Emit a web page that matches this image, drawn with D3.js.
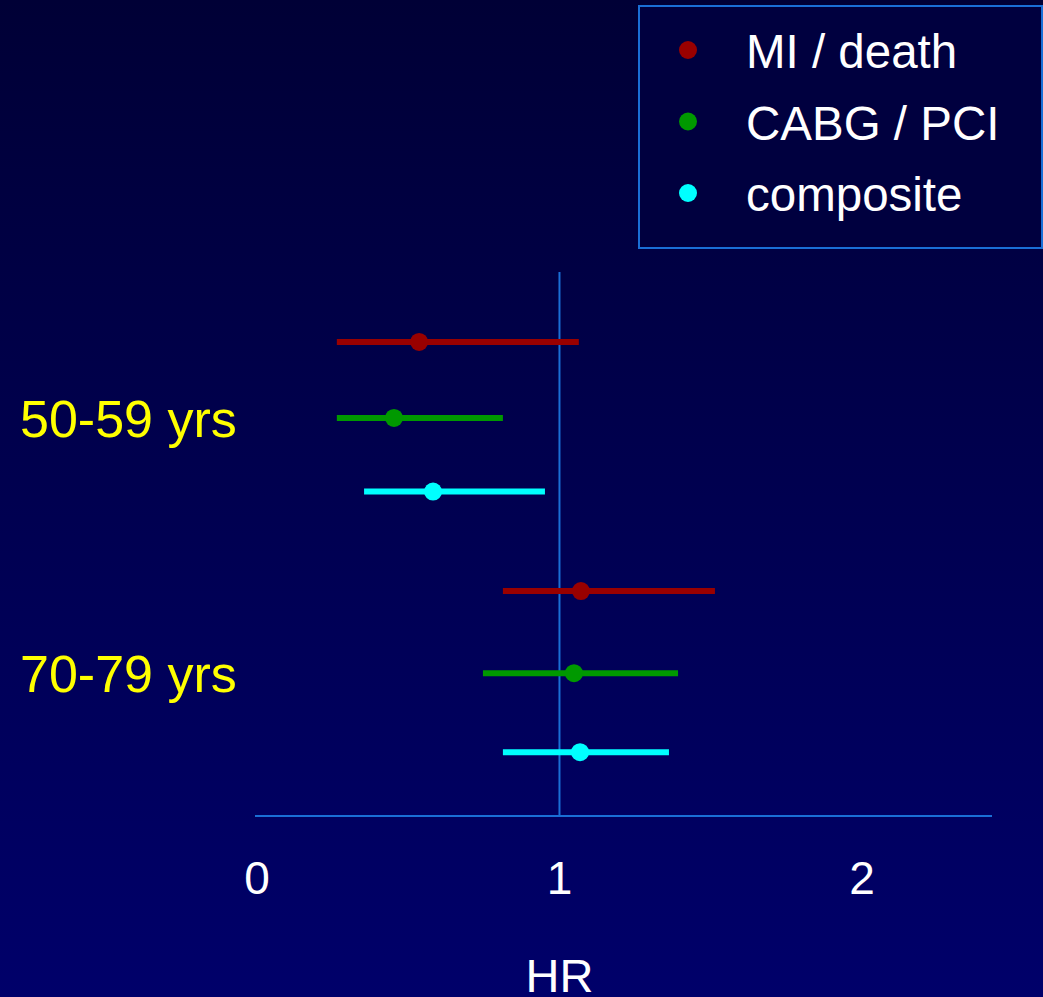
<!DOCTYPE html>
<html>
<head>
<meta charset="utf-8">
<script src="https://cdn.jsdelivr.net/npm/d3@7"></script>
<style>
  html, body { margin: 0; padding: 0; background: #000050; }
  svg { display: block; }
  text { font-family: "Liberation Sans", Arial, sans-serif; }
</style>
</head>
<body>
<script>
// data
var groups = ["50-59 yrs", "70-79 yrs"];
var outcomes = ["MI / death", "CABG / PCI", "composite"];
var colors = ["#990000", "#009900", "#00ffff"];
// hazard ratio estimate and 95% CI, per group, per outcome
var hr = [[0.536, 0.453, 0.582], [1.071, 1.048, 1.068]];
var lower = [[0.264, 0.264, 0.354], [0.813, 0.747, 0.813]];
var upper = [[1.064, 0.813, 0.952], [1.514, 1.392, 1.362]];
// vertical row position of each bar (arbitrary row units)
var rowPos = [[6.24, 5.24, 4.27], [2.96, 1.88, 0.84]];
var xTicks = [0, 1, 2];

var width = 1043, height = 997;

var svg = d3.select("body")
    .append("svg")
    .attr("width", width)
    .attr("height", height);

// background gradient
var grad = svg.append("defs").append("linearGradient")
    .attr("id", "bg")
    .attr("x1", 0).attr("y1", 0).attr("x2", 0).attr("y2", 1);
grad.append("stop").attr("offset", "0%").attr("stop-color", "#000036");
grad.append("stop").attr("offset", "100%").attr("stop-color", "#00006a");
svg.append("rect")
    .attr("width", width)
    .attr("height", height)
    .attr("fill", "url(#bg)");

// scales
var xScale = d3.scaleLinear()
    .domain([0, 2.43])
    .range([257, 992]);
var yScale = d3.scaleLinear()
    .domain([0, 7.16])
    .range([816, 272]);

// x axis line and reference line at HR = 1
svg.append("line")
    .attr("x1", xScale(0) - 2)
    .attr("x2", xScale(2.43))
    .attr("y1", yScale(0))
    .attr("y2", yScale(0))
    .attr("stroke", "#1a6fd6")
    .attr("stroke-width", 2);

svg.append("line")
    .attr("x1", xScale(1))
    .attr("x2", xScale(1))
    .attr("y1", yScale(7.16))
    .attr("y2", yScale(0))
    .attr("stroke", "#1a6fd6")
    .attr("stroke-width", 2);

// tick labels
svg.selectAll(".tick-label")
    .data(xTicks)
  .enter().append("text")
    .attr("class", "tick-label")
    .attr("x", function(d) { return xScale(d); })
    .attr("y", 894)
    .attr("text-anchor", "middle")
    .attr("fill", "#ffffff")
    .style("font-size", "46px")
    .text(function(d) { return d; });

svg.append("text")
    .attr("x", xScale(1))
    .attr("y", 992)
    .attr("text-anchor", "middle")
    .attr("fill", "#ffffff")
    .style("font-size", "47px")
    .text("HR");

// flatten rows
var rows = [];
for (var g = 0; g < groups.length; g++) {
  for (var o = 0; o < outcomes.length; o++) {
    rows.push({
      group: groups[g],
      outcome: o,
      hr: hr[g][o],
      lo: lower[g][o],
      hi: upper[g][o],
      pos: rowPos[g][o]
    });
  }
}

// error bars
svg.selectAll(".ci")
    .data(rows)
  .enter().append("line")
    .attr("class", "ci")
    .attr("x1", function(d) { return xScale(d.lo); })
    .attr("x2", function(d) { return xScale(d.hi); })
    .attr("y1", function(d) { return yScale(d.pos); })
    .attr("y2", function(d) { return yScale(d.pos); })
    .attr("stroke", function(d) { return colors[d.outcome]; })
    .attr("stroke-width", 6);

// point estimates
svg.selectAll(".dot")
    .data(rows)
  .enter().append("circle")
    .attr("class", "dot")
    .attr("cx", function(d) { return xScale(d.hr); })
    .attr("cy", function(d) { return yScale(d.pos); })
    .attr("r", 9)
    .attr("fill", function(d) { return colors[d.outcome]; });

// group labels, next to the middle row
svg.selectAll(".group-label")
    .data(groups)
  .enter().append("text")
    .attr("class", "group-label")
    .attr("x", 20)
    .attr("y", function(d, i) { return yScale(rowPos[i][1]) + 19; })
    .attr("fill", "#ffff00")
    .style("font-size", "52px")
    .text(function(d) { return d; });

// legend
var legend = svg.append("g");
legend.append("rect")
    .attr("x", 639)
    .attr("y", 6)
    .attr("width", 403)
    .attr("height", 242)
    .attr("fill", "#00003f")
    .attr("stroke", "#1a6fd6")
    .attr("stroke-width", 2);

var item = legend.selectAll(".legend")
    .data(outcomes)
  .enter().append("g")
    .attr("class", "legend")
    .attr("transform", function(d, i) { return "translate(0," + (50 + i * 71.5) + ")"; });

item.append("circle")
    .attr("cx", 688)
    .attr("cy", 0)
    .attr("r", 9)
    .attr("fill", function(d, i) { return colors[i]; });

item.append("text")
    .attr("x", 746)
    .attr("y", 18)
    .attr("fill", "#ffffff")
    .style("font-size", "47.5px")
    .text(function(d) { return d; });
</script>
</body>
</html>
